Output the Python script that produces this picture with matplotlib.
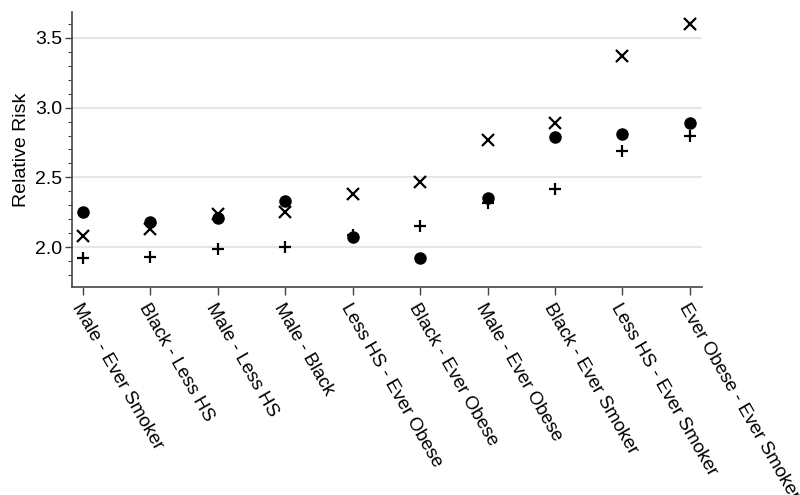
import matplotlib
matplotlib.use("Agg")
import matplotlib.pyplot as plt
from matplotlib.ticker import MultipleLocator

plt.rcParams['font.family'] = ['Liberation Sans', 'DejaVu Sans']

categories = ["Male - Ever Smoker", "Black - Less HS", "Male - Less HS", "Male - Black",
              "Less HS - Ever Obese", "Black - Ever Obese", "Male - Ever Obese",
              "Black - Ever Smoker", "Less HS - Ever Smoker", "Ever Obese - Ever Smoker"]
circle_vals = [2.25, 2.18, 2.21, 2.33, 2.07, 1.92, 2.35, 2.79, 2.81, 2.89]
cross_vals = [2.08, 2.13, 2.24, 2.25, 2.38, 2.47, 2.77, 2.89, 3.37, 3.60]
plus_vals = [1.92, 1.93, 1.99, 2.00, 2.09, 2.15, 2.32, 2.42, 2.69, 2.80]

fig = plt.figure(figsize=(8, 4.95), dpi=100)
ax = fig.add_axes([0.09, 0.42, 0.7875, 0.556])

xs = range(len(categories))
ax.plot(xs, circle_vals, 'o', color='black', markersize=8, zorder=3)
ax.plot(xs, cross_vals, 'x', color='black', markersize=8, markeredgewidth=1.6, zorder=3)
ax.plot(xs, plus_vals, '+', color='black', markersize=9, markeredgewidth=1.6, zorder=3)

ax.set_xlim(-0.16, 9.18)
ax.set_ylim(1.714, 3.686)
ax.yaxis.set_major_locator(MultipleLocator(0.5))
ax.yaxis.set_minor_locator(MultipleLocator(0.1))
ax.yaxis.set_major_formatter(matplotlib.ticker.FormatStrFormatter('%.1f'))
ax.grid(axis='y', which='major', color='#e6e6e6', linewidth=1.5, zorder=0)
ax.set_axisbelow(True)

for s in ['top', 'right']:
    ax.spines[s].set_visible(False)
for s in ['left', 'bottom']:
    ax.spines[s].set_color('#444444')
    ax.spines[s].set_linewidth(1.2)

ax.tick_params(axis='y', which='major', length=5, width=1, labelsize=14, color='#444444', pad=2)
ax.tick_params(axis='y', which='minor', length=3, width=0.8, color='#444444')
ax.tick_params(axis='x', length=6, width=1, labelsize=13.5, color='#444444')
ax.set_xticks(list(xs))
ax.set_xticklabels(categories, rotation=-60, ha='left', va='top', rotation_mode='anchor')
ax.set_ylabel("Relative Risk", fontsize=14, labelpad=4)

fig.savefig("out.png", dpi=100)
